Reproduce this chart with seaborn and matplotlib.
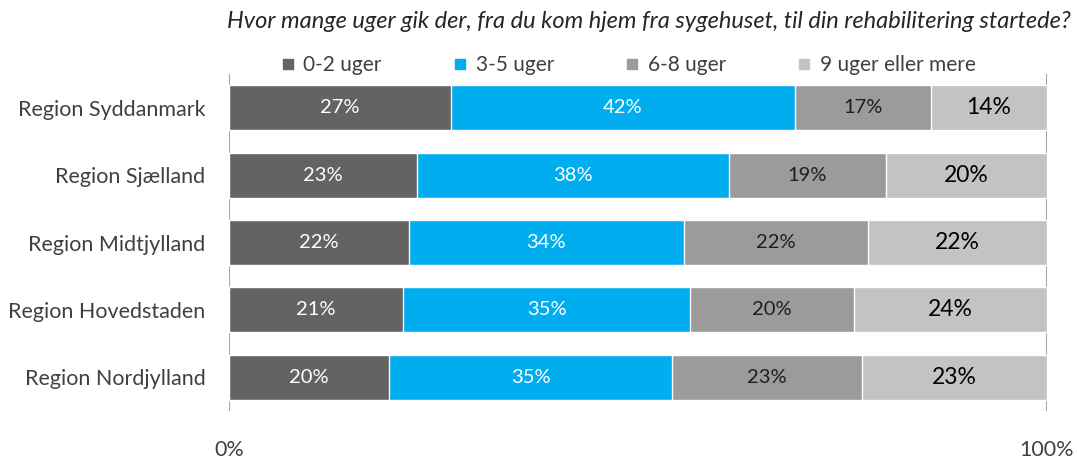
import numpy as np
import pandas as pd
import matplotlib
matplotlib.use("Agg")
import matplotlib.pyplot as plt
from matplotlib.lines import Line2D
import seaborn as sns

# data (share of patients, %)
regions = ["Region Syddanmark", "Region Sjælland", "Region Midtjylland",
           "Region Hovedstaden", "Region Nordjylland"]
groups = ["0-2 uger", "3-5 uger", "6-8 uger", "9 uger eller mere"]
weeks_0_2 = [27.1, 23.0, 22.0, 21.3, 19.6]
weeks_3_5 = [42.1, 38.1, 33.6, 35.1, 34.6]
weeks_6_8 = [16.6, 19.2, 22.5, 20.0, 23.2]
weeks_9_plus = [14.2, 19.7, 21.9, 23.6, 22.6]

colors = ["#636363", "#00AEEF", "#9B9B9B", "#C3C3C3"]
label_colors = ["white", "white", "#1E1E1E", "black"]
label_sizes = [14.5, 14.5, 14.5, 16.5]

df = pd.DataFrame({"Region": regions, groups[0]: weeks_0_2, groups[1]: weeks_3_5,
                   groups[2]: weeks_6_8, groups[3]: weeks_9_plus})
cum = df[groups].cumsum(axis=1)

sns.set_theme(style="white")
plt.rcParams["font.family"] = ["Lato", "DejaVu Sans"]

fig = plt.figure(figsize=(10.77, 4.61), dpi=100)
ax = fig.add_axes([229 / 1077, 1 - 411 / 461, 818 / 1077, 337 / 461])

# stacked bars: draw cumulative totals from the widest down
for i in range(len(groups) - 1, -1, -1):
    sns.barplot(x=cum[groups[i]], y=df["Region"], color=colors[i], orient="h",
                width=0.667, ax=ax, zorder=2, saturation=1)

# value labels in the middle of each segment
for i, g in enumerate(groups):
    starts = cum[g] - df[g]
    for j in range(len(regions)):
        ax.text(starts[j] + df[g][j] / 2, j, f"{df[g][j]:.0f}%", ha="center", va="center",
                color=label_colors[i], fontsize=label_sizes[i], zorder=3)

ax.set_xlim(0, 100)
ax.set_ylim(4.5, -0.5)
ax.set_xticks([0, 100])
ax.set_xticklabels(["0%", "100%"])
ax.xaxis.grid(True, color="#A6A6A6", linewidth=1.5, zorder=0)
ax.set_axisbelow(True)
ax.tick_params(axis="x", length=0, pad=21, labelsize=15.5, colors="#404040")
ax.tick_params(axis="y", length=0, pad=17, labelsize=15.5, colors="#404040")
ax.set_xlabel("")
ax.set_ylabel("")
for s in ax.spines.values():
    s.set_visible(False)

handles = [Line2D([], [], marker="s", linestyle="", markersize=7.5, color=c) for c in colors]
fig.legend(handles, groups, loc="center", bbox_to_anchor=(628 / 1077, 1 - 65 / 461), ncol=4,
           frameon=False, fontsize=15, handlelength=0.7, handletextpad=0.4,
           columnspacing=3.4, labelcolor="#404040")

fig.text(649 / 1077, 1 - 22 / 461,
         "Hvor mange uger gik der, fra du kom hjem fra sygehuset, til din rehabilitering startede?",
         ha="center", va="center", fontsize=17, style="italic", color="#262626")

fig.savefig("out.png", dpi=100)
